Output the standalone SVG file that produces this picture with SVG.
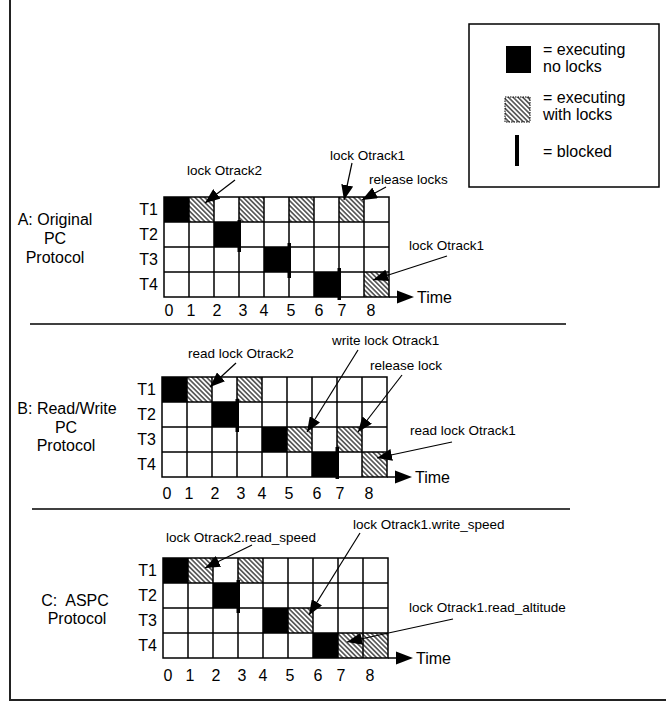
<svg xmlns="http://www.w3.org/2000/svg" width="666" height="702" viewBox="0 0 666 702">
  <style>
    text { font-family: "Liberation Sans", Arial, sans-serif; fill: #000; }
    .lbl { font-size: 16px; }
    .note { font-size: 13.5px; }
    .mid { text-anchor: middle; }
    .end { text-anchor: end; }
    .grid { fill: none; stroke: #000; stroke-width: 1.5; }
    .run { fill: #000; }
    .lockd { fill: url(#hatch); }
    .blk { fill: #000; }
    .arrow { stroke: #000; stroke-width: 1.2; fill: none; marker-end: url(#head); }
    .axis { stroke: #000; stroke-width: 1.5; fill: none; }
    .frame { stroke: #222; stroke-width: 2; fill: none; }
    .sep { stroke: #000; stroke-width: 1.5; }
  </style>
  <defs>
    <!-- diagonal hatch for "executing with locks" -->
    <pattern id="hatch" patternUnits="userSpaceOnUse" width="8" height="3.4" patternTransform="rotate(45)">
      <rect x="0" y="0" width="8" height="3.4" fill="#fff"/>
      <line x1="0" y1="1.7" x2="8" y2="1.7" stroke="#000" stroke-width="1.1"/>
    </pattern>
    <marker id="head" viewBox="0 0 15 12" refX="15" refY="6" markerWidth="15" markerHeight="12" markerUnits="userSpaceOnUse" orient="auto">
      <path d="M0,0 L15,6 L0,12 z" fill="#000"/>
    </marker>
    <!-- 9 x 4 schedule grid, 25 px cells -->
    <g id="gridlines" class="grid">
      <rect x="0" y="0" width="225" height="100"/>
      <path d="M25,0V100M50,0V100M75,0V100M100,0V100M125,0V100M150,0V100M175,0V100M200,0V100M0,25H225M0,50H225M0,75H225"/>
    </g>
    <!-- time axis with tick numbers -->
    <g id="timeaxis">
      <path class="axis" d="M225,100H234"/>
      <polygon points="233,93.5 250,100 233,106.5" fill="#000"/>
      <text class="lbl" x="253" y="106">Time</text>
    </g>
    <g id="ticks" class="lbl mid">
      <text x="5" y="0">0</text>
      <text x="27" y="0">1</text>
      <text x="53" y="0">2</text>
      <text x="79" y="0">3</text>
      <text x="100" y="0">4</text>
      <text x="127" y="0">5</text>
      <text x="155" y="0">6</text>
      <text x="178" y="0">7</text>
      <text x="207" y="0">8</text>
    </g>
    <g id="tasks" class="lbl end">
      <text x="-6" y="18">T1</text>
      <text x="-6" y="43">T2</text>
      <text x="-6" y="68">T3</text>
      <text x="-6" y="93">T4</text>
    </g>
  </defs>

  <!-- page frame and section dividers -->
  <path class="frame" d="M10,0V700H666"/>
  <line class="sep" x1="30" y1="324" x2="566" y2="324"/>
  <line class="sep" x1="32" y1="509" x2="570" y2="509"/>

  <!-- legend -->
  <g id="legend">
    <rect x="469" y="24" width="190" height="163" fill="#fff" stroke="#000" stroke-width="1.5"/>
    <rect class="run" x="506" y="46" width="25" height="27"/>
    <text class="lbl" x="543" y="55">= executing</text>
    <text class="lbl" x="543" y="72">no locks</text>
    <rect class="lockd" x="505" y="97" width="25" height="25" stroke="#000" stroke-width="1" stroke-dasharray="1.5,1"/>
    <text class="lbl" x="543" y="103">= executing</text>
    <text class="lbl" x="543" y="120">with locks</text>
    <rect class="blk" x="515" y="135" width="4" height="31"/>
    <text class="lbl" x="543" y="157">= blocked</text>
  </g>

  <!-- A: original priority ceiling -->
  <g id="panel-a">
    <text class="lbl mid" x="55" y="225">A: Original</text>
    <text class="lbl mid" x="55" y="244">PC</text>
    <text class="lbl mid" x="55" y="263">Protocol</text>
    <use href="#tasks" x="164" y="197"/>
    <rect class="run" x="164" y="197" width="25" height="25"/>
    <rect class="lockd" x="189" y="197" width="25" height="25"/>
    <rect class="lockd" x="239" y="197" width="25" height="25"/>
    <rect class="lockd" x="289" y="197" width="25" height="25"/>
    <rect class="lockd" x="339" y="197" width="25" height="25"/>
    <rect class="run" x="214" y="222" width="25" height="25"/>
    <rect class="run" x="264" y="247" width="25" height="25"/>
    <rect class="run" x="314" y="272" width="25" height="25"/>
    <rect class="lockd" x="364" y="272" width="25" height="25"/>
    <use href="#gridlines" x="164" y="197"/>
    <rect class="blk" x="237.5" y="220" width="3.5" height="32"/>
    <rect class="blk" x="287.5" y="243" width="3.5" height="35"/>
    <rect class="blk" x="337.5" y="268" width="3.5" height="32"/>
    <use href="#timeaxis" x="164" y="197"/>
    <use href="#ticks" x="164" y="316"/>
    <text class="note" x="187" y="175">lock Otrack2</text>
    <text class="note" x="330" y="160">lock Otrack1</text>
    <text class="note" x="369" y="184">release locks</text>
    <text class="note" x="409" y="250">lock Otrack1</text>
  </g>

  <!-- B: read/write priority ceiling -->
  <g id="panel-b">
    <text class="lbl mid" x="67" y="414">B: Read/Write</text>
    <text class="lbl mid" x="66" y="433">PC</text>
    <text class="lbl mid" x="66" y="451">Protocol</text>
    <use href="#tasks" x="162" y="377"/>
    <rect class="run" x="162" y="377" width="25" height="25"/>
    <rect class="lockd" x="187" y="377" width="25" height="25"/>
    <rect class="lockd" x="237" y="377" width="25" height="25"/>
    <rect class="run" x="212" y="402" width="25" height="25"/>
    <rect class="run" x="262" y="427" width="25" height="25"/>
    <rect class="lockd" x="287" y="427" width="25" height="25"/>
    <rect class="lockd" x="337" y="427" width="25" height="25"/>
    <rect class="run" x="312" y="452" width="25" height="25"/>
    <rect class="lockd" x="362" y="452" width="25" height="25"/>
    <use href="#gridlines" x="162" y="377"/>
    <rect class="blk" x="235.5" y="399" width="3.5" height="33"/>
    <rect class="blk" x="335.5" y="447" width="3.5" height="32"/>
    <use href="#timeaxis" x="162" y="377"/>
    <use href="#ticks" x="162" y="499"/>
    <text class="note" x="188" y="358">read lock Otrack2</text>
    <text class="note" x="332" y="345">write lock Otrack1</text>
    <text class="note" x="370" y="370">release lock</text>
    <text class="note" x="410" y="435">read lock Otrack1</text>
  </g>

  <!-- C: attribute-level ASPC -->
  <g id="panel-c">
    <text class="lbl mid" x="75" y="606" xml:space="preserve">C:  ASPC</text>
    <text class="lbl mid" x="77" y="624">Protocol</text>
    <use href="#tasks" x="163" y="558"/>
    <rect class="run" x="163" y="558" width="25" height="25"/>
    <rect class="lockd" x="188" y="558" width="25" height="25"/>
    <rect class="lockd" x="238" y="558" width="25" height="25"/>
    <rect class="run" x="213" y="583" width="25" height="25"/>
    <rect class="run" x="263" y="608" width="25" height="25"/>
    <rect class="lockd" x="288" y="608" width="25" height="25"/>
    <rect class="run" x="313" y="633" width="25" height="25"/>
    <rect class="lockd" x="338" y="633" width="25" height="25"/>
    <rect class="lockd" x="363" y="633" width="25" height="25"/>
    <use href="#gridlines" x="163" y="558"/>
    <rect class="blk" x="236.5" y="580" width="3.5" height="33"/>
    <use href="#timeaxis" x="163" y="558"/>
    <use href="#ticks" x="163" y="681"/>
    <text class="note" x="166" y="542">lock Otrack2.read_speed</text>
    <text class="note" x="353" y="529">lock Otrack1.write_speed</text>
    <text class="note" x="409" y="612">lock Otrack1.read_altitude</text>
  </g>

  <!-- annotation arrows -->
  <g id="connectors">
    <line class="arrow" x1="235" y1="180" x2="205" y2="203"/>
    <line class="arrow" x1="352" y1="163" x2="344" y2="200"/>
    <line class="arrow" x1="386" y1="187" x2="362" y2="200"/>
    <line class="arrow" x1="447" y1="256" x2="373" y2="280"/>
    <line class="arrow" x1="236" y1="363" x2="210" y2="387"/>
    <line class="arrow" x1="358" y1="350" x2="307" y2="432"/>
    <line class="arrow" x1="402" y1="375" x2="358" y2="432"/>
    <line class="arrow" x1="452" y1="442" x2="377" y2="458"/>
    <line class="arrow" x1="252" y1="545" x2="205" y2="568"/>
    <line class="arrow" x1="360" y1="533" x2="309" y2="615"/>
    <line class="arrow" x1="453" y1="619" x2="347" y2="642"/>
  </g>
</svg>
